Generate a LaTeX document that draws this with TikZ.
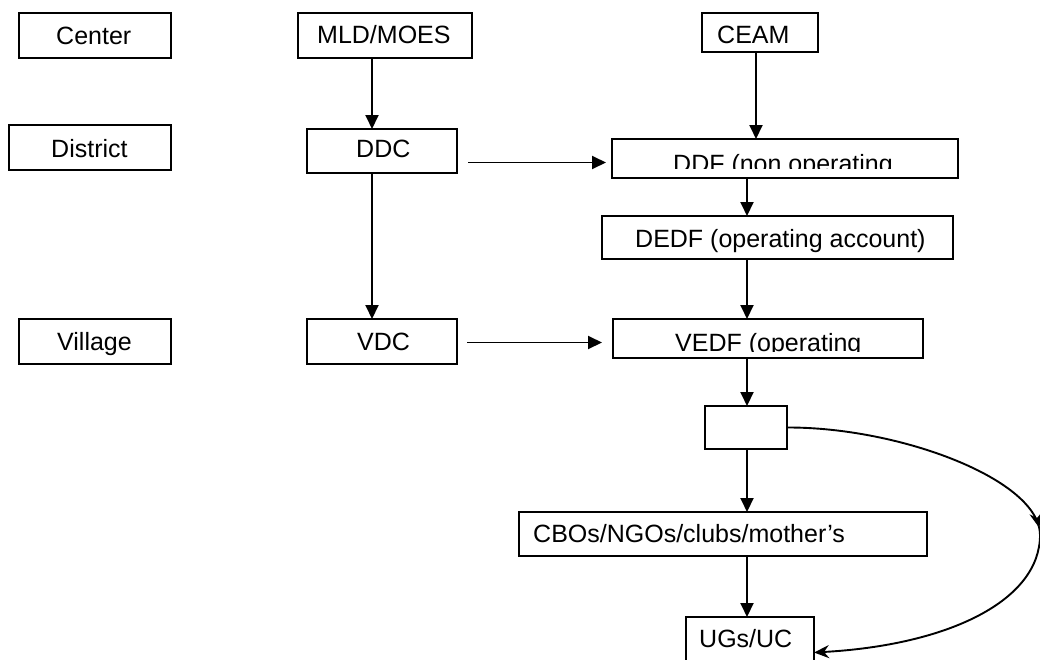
\documentclass[tikz,border=0pt]{standalone}
\usepackage{fontspec}
\setmainfont{Liberation Sans}
\usetikzlibrary{arrows.meta,decorations.markings}
\begin{document}
\begin{tikzpicture}[x=1pt,y=-1pt,
  box/.style={draw,line width=1.9pt,inner sep=0pt,outer sep=0pt,minimum width=#1},
  txt/.style={anchor=base west,inner sep=0pt,font=\fontsize{25}{30}\selectfont},
  arr/.style={line width=1.9pt,-{Triangle[length=14pt,width=13pt]}},
  curv/.style={line width=1.9pt,-{Stealth[length=15pt,width=13pt,inset=5pt]}}]
\useasboundingbox (0,0) rectangle (1040,659);
% boxes
\node[box=152pt,minimum height=45pt] (center) at (95,35.5) {};
\node[box=174pt,minimum height=45pt] (mld) at (385,35.5) {};
\node[box=116pt,minimum height=39pt] (ceam) at (760,32.5) {};
\node[box=162pt,minimum height=45pt] (district) at (90,147.5) {};
\node[box=150pt,minimum height=44pt] (ddc) at (382,151) {};
\node[box=346pt,minimum height=39pt] (ddf) at (785,158.5) {};
\node[box=351pt,minimum height=43pt] (dedf) at (777.5,237.5) {};
\node[box=152pt,minimum height=45pt] (village) at (95,341.5) {};
\node[box=150pt,minimum height=45pt] (vdc) at (382,341.5) {};
\node[box=310pt,minimum height=39pt] (vedf) at (768,338.5) {};
\node[box=82pt,minimum height=43pt] (empty) at (746,427.5) {};
\node[box=408pt,minimum height=44pt] (cbo) at (723,534) {};
\node[box=128pt,minimum height=53pt] (ugs) at (750,643.5) {};
% texts
\node[txt] (tcenter) at (56,44) {Center};
\node[txt] (tmld) at (317,43) {MLD/MOES};
\node[txt] (tceam) at (717,43) {CEAM};
\node[txt] (tdistrict) at (51,157) {District};
\node[txt] (tddc) at (356,157) {DDC};
\begin{scope}
  \clip (ddf.north west) rectangle ([yshift=10pt]ddf.south east);
  \node[txt] (tddf) at (673,172) {DDF (non operating};
\end{scope}
\node[txt] (tdedf) at (635,247) {DEDF (operating account)};
\node[txt] (tvillage) at (57,350) {Village};
\node[txt] (tvdc) at (357,350) {VDC};
\begin{scope}
  \clip (vedf.north west) rectangle ([yshift=7pt]vedf.south east);
  \node[txt] (tvedf) at (675,351) {VEDF (operating};
\end{scope}
\node[txt] (tcbo) at (533,542) {CBOs/NGOs/clubs/mother’s};
\node[txt] (tugs) at (699,647) {UGs/UC};
% columns / rows
\coordinate (c1) at (372,0);
\coordinate (c2) at (747,0);
\coordinate (c3) at (756,0);
\coordinate (r1) at (0,162.5);
\coordinate (r2) at (0,342.5);
% connectors
\draw[arr] (mld.south -| c1) -- (ddc.north -| c1);
\draw[arr] (ddc.south -| c1) -- (vdc.north -| c1);
\draw[arr] (ceam.south -| c3) -- (ddf.north -| c3);
\draw[arr] (ddf.south -| c2) -- (dedf.north -| c2);
\draw[arr] (dedf.south -| c2) -- (vedf.north -| c2);
\draw[arr] (vedf.south -| c2) -- (empty.north -| c2);
\draw[arr] (empty.south -| c2) -- (cbo.north -| c2);
\draw[arr] (cbo.south -| c2) -- (ugs.north -| c2);
\draw[arr,shorten <=11pt,shorten >=6pt] (ddc.east |- r1) -- (ddf.west |- r1);
\draw[arr,shorten <=10pt,shorten >=11pt] (vdc.east |- r2) -- (vedf.west |- r2);
\coordinate (ugsend) at ([yshift=-9pt]ugs.east);
\draw[curv,postaction={decorate,decoration={markings,
   mark=at position 0.5 with {\arrow{Stealth[length=15pt,width=13pt,inset=5pt]}}}}]
  (empty.east) .. controls (900,427) and (1040,480) .. (1040,535)
  .. controls (1040,600) and (950,645) .. (ugsend);
\end{tikzpicture}
\end{document}
